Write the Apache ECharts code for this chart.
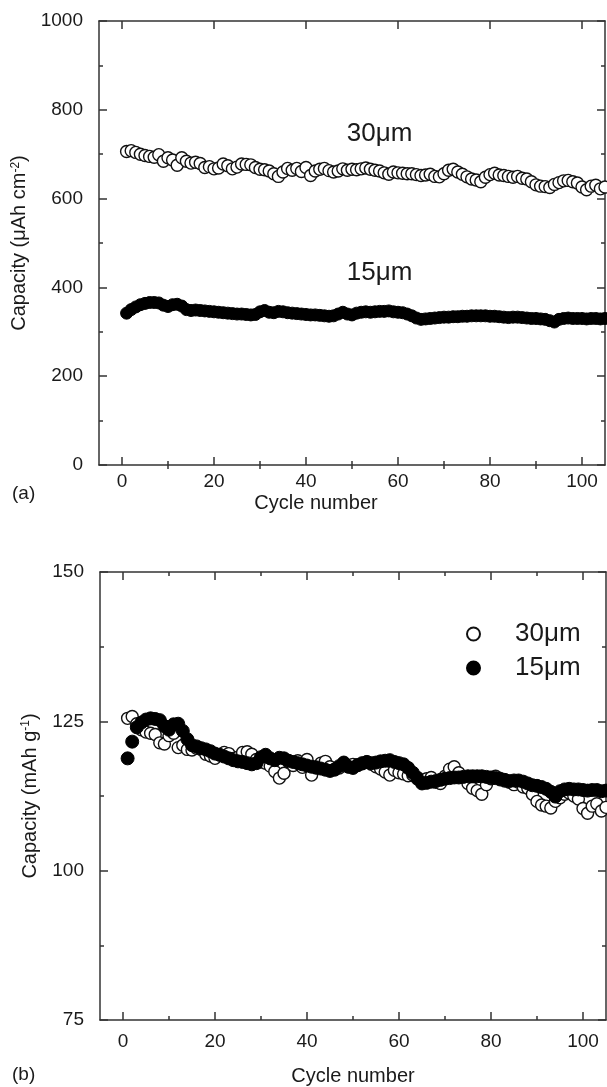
<!DOCTYPE html>
<html>
<head>
<meta charset="utf-8">
<script src="https://cdn.jsdelivr.net/npm/echarts@6/dist/echarts.min.js"></script>
<style>
  html, body { margin: 0; padding: 0; background: #fff; }
  #chart { width: 607px; height: 1087px; }
</style>
</head>
<body>
<div id="chart"></div>
<script>
// (a) areal capacity, uAh cm-2, cycles 1..105
const capA30 = [706, 708, 704, 700, 697, 695, 693, 699, 684, 692, 687, 675, 692, 684, 680, 682, 679, 670, 672, 667,
  669, 678, 674, 667, 671, 678, 677, 676, 670, 666, 665, 662, 656, 650, 660, 668, 664, 668, 661, 670,
  652, 662, 666, 668, 663, 660, 662, 667, 664, 666, 665, 667, 669, 666, 664, 662, 658, 655, 660, 658,
  657, 656, 656, 654, 652, 653, 655, 650, 649, 656, 664, 666, 660, 655, 649, 644, 642, 638, 648, 654,
  657, 653, 652, 650, 648, 650, 646, 644, 638, 631, 628, 627, 625, 632, 636, 640, 641, 638, 635, 626,
  620, 628, 630, 622, 626];
const capA15 = [342, 350, 356, 361, 364, 366, 366, 365, 360, 357, 361, 362, 358, 350, 348, 349, 348, 347, 346, 345,
  344, 343, 342, 341, 340, 340, 339, 338, 339, 345, 348, 344, 343, 346, 345, 343, 342, 341, 340, 339,
  338, 338, 337, 336, 335, 336, 340, 344, 340, 338, 342, 344, 345, 344, 345, 346, 346, 347, 345, 344,
  343, 340, 336, 331, 328, 329, 330, 331, 332, 333, 333, 334, 334, 335, 335, 336, 336, 336, 336, 335,
  335, 334, 333, 332, 333, 333, 332, 331, 330, 330, 329, 328, 325, 322, 328, 330, 331, 330, 330, 330,
  329, 330, 330, 329, 330];

// (b) specific capacity, mAh g-1
const capB30 = [125.5, 125.8, 124.6, 123.6, 123.2, 123.0, 122.8, 121.4, 121.2, 122.6, 123.0, 120.6, 121.0, 120.3, 120.2,
  120.5, 120.3, 119.5, 119.2, 118.8, 119.4, 119.8, 119.6, 118.8, 119.0, 119.8, 119.9, 119.5, 118.6, 118.2,
  118.0, 117.5, 116.6, 115.5, 116.3, 118.2, 117.6, 118.4, 117.3, 118.6, 116.0, 117.2, 118.0, 118.3, 117.4,
  117.0, 117.2, 118.0, 117.4, 117.8, 117.6, 117.9, 118.2, 117.8, 117.4, 117.0, 116.5, 116.0, 116.8, 116.4,
  116.2, 115.9, 116.0, 115.6, 115.2, 115.4, 115.6, 114.8, 114.6, 115.8, 117.0, 117.4, 116.4, 115.6, 114.6,
  113.8, 113.4, 112.8, 114.4, 115.4, 115.8, 115.2, 115.0, 114.8, 114.4, 114.8, 114.0, 113.8, 112.8, 111.6,
  111.0, 110.8, 110.5, 111.6, 112.2, 112.8, 113.0, 112.5, 112.0, 110.4, 109.6, 110.8, 111.2, 110.0, 110.6];
const capB15 = [118.8, 121.6, 124.0, 124.8, 125.3, 125.5, 125.4, 125.2, 124.2, 123.6, 124.5, 124.6, 123.4, 122.0, 121.0,
  120.8, 120.5, 120.3, 120.0, 119.6, 119.4, 119.1, 118.8, 118.5, 118.3, 118.2, 118.0, 117.8, 118.0, 119.0,
  119.4, 118.8, 118.5, 118.9, 118.8, 118.4, 118.2, 118.0, 117.8, 117.6, 117.4, 117.3, 117.1, 116.9, 116.7,
  116.9, 117.5, 118.1, 117.4, 117.2, 117.7, 118.0, 118.2, 118.0, 118.1, 118.3, 118.4, 118.5, 118.2, 118.0,
  117.8, 117.2, 116.4, 115.4, 114.6, 114.7, 114.9, 115.0, 115.2, 115.4, 115.5, 115.6, 115.6, 115.7, 115.8,
  115.8, 115.8, 115.8, 115.7, 115.6, 115.5, 115.4, 115.2, 115.0, 115.1, 115.1, 114.9, 114.6, 114.3, 114.2,
  114.0, 113.7, 113.2, 112.4, 113.3, 113.6, 113.7, 113.6, 113.6, 113.5, 113.4, 113.5, 113.5, 113.3, 113.4];

const xMajor = [0, 20, 40, 60, 80, 100];
const xMinor = [10, 30, 50, 70, 90];
const seriesNames = ['30μm', '15μm'];

const font = '"Liberation Sans", Arial, sans-serif';
const ink = '#1a1a1a';
const axisCol = '#333';

function toPoints(arr) {
  const out = [];
  for (let i = 0; i < arr.length; i++) out.push([i + 1, arr[i]]);
  return out;
}

function xAxes(gi, labelMargin, nameGap, namePad) {
  const base = {
    gridIndex: gi, type: 'value', min: -5, max: 105,
    splitLine: { show: false },
    axisLine: { show: true, onZero: false, lineStyle: { color: axisCol, width: 1.5 } }
  };
  const tick = (vals, len) => ({ show: true, inside: true, length: len, customValues: vals, lineStyle: { color: axisCol, width: 1.5 } });
  return [
    Object.assign({}, base, {
      position: 'bottom',
      name: 'Cycle number',
      nameLocation: 'middle',
      nameGap: nameGap,
      nameTextStyle: { fontFamily: font, fontSize: 20, color: ink, padding: namePad },
      axisTick: tick(xMajor, 8),
      axisLabel: { show: true, customValues: xMajor, margin: labelMargin, fontFamily: font, fontSize: 19, color: ink }
    }),
    Object.assign({}, base, { position: 'bottom', axisLine: { show: false }, axisTick: tick(xMinor, 4), axisLabel: { show: false } }),
    Object.assign({}, base, { position: 'top', axisTick: tick(xMajor, 8), axisLabel: { show: false } }),
    Object.assign({}, base, { position: 'top', axisLine: { show: false }, axisTick: tick(xMinor, 4), axisLabel: { show: false } })
  ];
}

function yAxes(gi, min, max, interval, name) {
  const base = {
    gridIndex: gi, type: 'value', min: min, max: max, interval: interval,
    splitLine: { show: false },
    axisLine: { show: true, onZero: false, lineStyle: { color: axisCol, width: 1.5 } },
    axisTick: { show: true, inside: true, length: 8, lineStyle: { color: axisCol, width: 1.5 } },
    minorTick: { show: true, splitNumber: 2, length: 4, lineStyle: { color: axisCol, width: 1.5 } }
  };
  return [
    Object.assign({}, base, {
      position: 'left',
      name: name,
      nameLocation: 'middle',
      nameGap: 60,
      nameTextStyle: {
        fontFamily: font, fontSize: 20, color: ink,
        rich: { sup: { fontFamily: font, fontSize: 12, color: ink, verticalAlign: 'top' } }
      },
      axisLabel: { margin: 16, fontFamily: font, fontSize: 19, color: ink, formatter: (v) => String(v) }
    }),
    Object.assign({}, base, { position: 'right', axisLabel: { show: false } })
  ];
}

const chartDom = document.getElementById('chart');
const myChart = echarts.init(chartDom, null, { renderer: 'canvas' });

const openStyle = { color: '#fff', borderColor: '#111', borderWidth: 1.4, opacity: 1 };
const filledStyle = { color: '#000', borderColor: '#000', borderWidth: 1, opacity: 1 };

const option = {
  backgroundColor: '#fff',
  animation: false,
  textStyle: { fontFamily: font },
  grid: [
    { left: 99, right: 2, top: 21, height: 444 },
    { left: 100, right: 1, top: 572, height: 448 }
  ],
  xAxis: xAxes(0, 7, 28, [0, 72, 0, 0]).concat(xAxes(1, 12, 46, [0, 0, 0, 0])),
  yAxis: yAxes(0, 0, 1000, 200, 'Capacity (μAh cm{sup|-2})')
    .concat(yAxes(1, 75, 150, 25, 'Capacity (mAh g{sup|-1})')),
  legend: {
    data: seriesNames,
    orient: 'vertical',
    left: 461,
    top: 616,
    itemWidth: 13,
    itemHeight: 13,
    itemGap: 8,
    icon: 'circle',
    textStyle: { fontFamily: font, fontSize: 26, color: ink, padding: [0, 0, 0, 30] }
  },
  graphic: [
    { type: 'text', left: 12, top: 484, style: { text: '(a)', font: '19px ' + font, fill: ink } },
    { type: 'text', left: 12, top: 1065, style: { text: '(b)', font: '19px ' + font, fill: ink } }
  ],
  series: [
    {
      name: 'a30', type: 'scatter', xAxisIndex: 0, yAxisIndex: 0,
      symbol: 'circle', symbolSize: 12, itemStyle: openStyle,
      data: toPoints(capA30),
      markPoint: {
        symbol: 'circle', symbolSize: 0,
        label: { show: true, formatter: '30μm', fontFamily: font, fontSize: 26, color: ink },
        data: [{ coord: [56, 745] }]
      }
    },
    {
      name: 'a15', type: 'scatter', xAxisIndex: 0, yAxisIndex: 0,
      symbol: 'circle', symbolSize: 12, itemStyle: filledStyle,
      data: toPoints(capA15),
      markPoint: {
        symbol: 'circle', symbolSize: 0,
        label: { show: true, formatter: '15μm', fontFamily: font, fontSize: 26, color: ink },
        data: [{ coord: [56, 432] }]
      }
    },
    {
      name: seriesNames[0], type: 'scatter', xAxisIndex: 4, yAxisIndex: 2,
      symbol: 'circle', symbolSize: 12, itemStyle: openStyle,
      data: toPoints(capB30)
    },
    {
      name: seriesNames[1], type: 'scatter', xAxisIndex: 4, yAxisIndex: 2,
      symbol: 'circle', symbolSize: 13, itemStyle: filledStyle,
      data: toPoints(capB15)
    }
  ]
};

myChart.setOption(option);
</script>
</body>
</html>
